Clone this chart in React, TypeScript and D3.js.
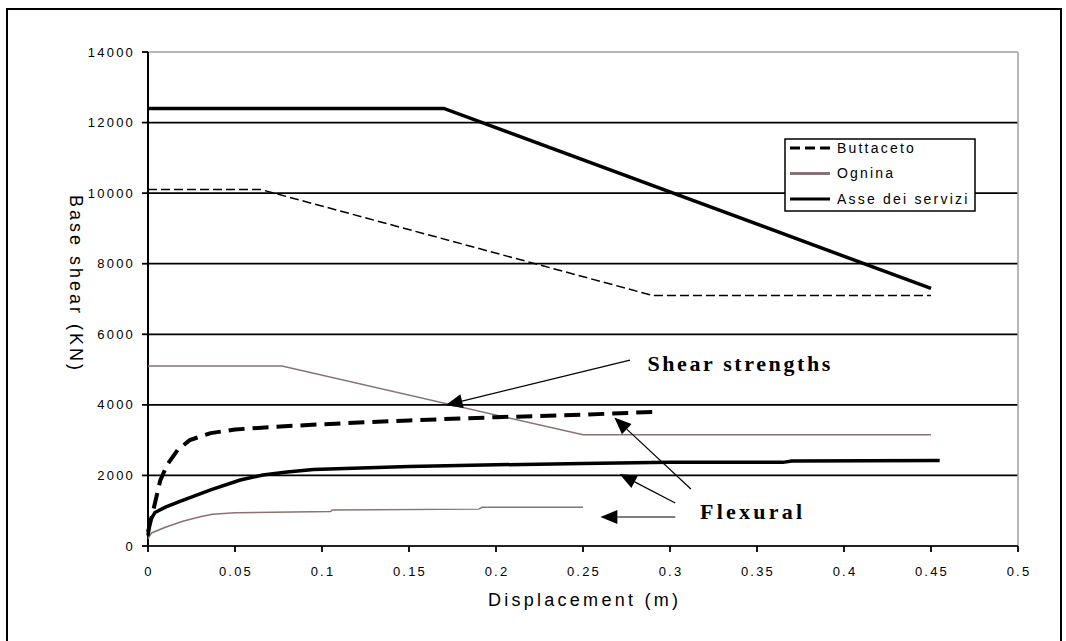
import React from 'react'
import * as d3 from 'd3'

// axis ticks
const xTicks = [0, 0.05, 0.1, 0.15, 0.2, 0.25, 0.3, 0.35, 0.4, 0.45, 0.5]
const xTickLabels = ['0', '0.05', '0.1', '0.15', '0.2', '0.25', '0.3', '0.35', '0.4', '0.45', '0.5']
const yTicks = [0, 2000, 4000, 6000, 8000, 10000, 12000, 14000]

// shear strength envelopes
const shearButtacetoX = [0, 0.065, 0.29, 0.45]
const shearButtacetoY = [10100, 10100, 7100, 7100]
const shearOgninaX = [0, 0.077, 0.25, 0.45]
const shearOgninaY = [5100, 5100, 3150, 3150]
const shearAsseX = [0, 0.17, 0.45]
const shearAsseY = [12400, 12400, 7300]

// flexural (pushover) curves
const flexButtacetoX = [0, 0.003, 0.007, 0.011, 0.017, 0.024, 0.036, 0.05, 0.07, 0.1, 0.15, 0.2, 0.25, 0.29]
const flexButtacetoY = [400, 1000, 1850, 2300, 2720, 3000, 3200, 3300, 3370, 3450, 3560, 3650, 3720, 3800]
const flexAsseX = [0, 0.001, 0.004, 0.01, 0.018, 0.036, 0.053, 0.066, 0.08, 0.095, 0.15, 0.2, 0.25, 0.3, 0.365, 0.37, 0.455]
const flexAsseY = [300, 700, 950, 1100, 1260, 1590, 1870, 2010, 2100, 2170, 2250, 2300, 2340, 2370, 2370, 2410, 2420]
const flexOgninaX = [0, 0.002, 0.01, 0.02, 0.03, 0.037, 0.05, 0.105, 0.106, 0.19, 0.192, 0.25]
const flexOgninaY = [200, 370, 530, 700, 830, 900, 945, 975, 1020, 1045, 1095, 1100]

const legendNames = ['Buttaceto', 'Ognina', 'Asse dei servizi']

// annotation arrows, data units: [fromX, fromY, tipX, tipY]
const shearArrow = [0.277, 5270, 0.171, 3990]
const flexArrows = [
  [0.312, 1615, 0.268, 3640],
  [0.303, 1220, 0.271, 2040],
  [0.303, 822, 0.26, 822],
]

const ogninaColor = '#8b7272'
const sansFont = '"Liberation Sans", Arial, sans-serif'
const serifFont = '"Liberation Serif", "Times New Roman", serif'

const zip = (xs: number[], ys: number[]) => xs.map((x, i) => [x, ys[i]] as [number, number])

export default function App() {
  const x = d3.scaleLinear().domain([0, 0.5]).range([148, 1018])
  const y = d3.scaleLinear().domain([0, 14000]).range([546, 52])
  const line = d3
    .line<[number, number]>()
    .x(d => x(d[0]))
    .y(d => y(d[1]))

  const arrow = (a: number[], key: string) => {
    const x1 = x(a[0]), y1 = y(a[1]), x2 = x(a[2]), y2 = y(a[3])
    const ang = Math.atan2(y2 - y1, x2 - x1)
    const len = 17, hw = 7
    const bx = x2 - len * Math.cos(ang), by = y2 - len * Math.sin(ang)
    const p1 = [bx + hw * Math.sin(ang), by - hw * Math.cos(ang)]
    const p2 = [bx - hw * Math.sin(ang), by + hw * Math.cos(ang)]
    return (
      <g key={key}>
        <line x1={x1} y1={y1} x2={bx} y2={by} stroke="#000" strokeWidth={1.2} />
        <path d={`M${x2},${y2}L${p1[0]},${p1[1]}L${p2[0]},${p2[1]}Z`} fill="#000" />
      </g>
    )
  }

  const legendX = 785, legendY = 139
  const legendStyles = [
    { stroke: '#000', width: 3, dash: '10 5' },
    { stroke: ogninaColor, width: 3, dash: undefined },
    { stroke: '#000', width: 3, dash: undefined },
  ]

  return (
    <svg width={1066} height={641} style={{ display: 'block', position: 'absolute', left: 0, top: 0, background: '#fff' }}>
      <rect x={7} y={9} width={1054} height={650} fill="#fff" stroke="#000" strokeWidth={2} />

      {/* gridlines */}
      {yTicks.filter(t => t > 0).map(t => (
        <line key={'g' + t} x1={x(0)} x2={x(0.5)} y1={y(t)} y2={y(t)}
          stroke={t === 14000 ? '#a0a0a0' : '#000'} strokeWidth={t === 14000 ? 1.5 : 1.8} />
      ))}
      <line x1={x(0.5)} x2={x(0.5)} y1={y(14000)} y2={y(0)} stroke="#a0a0a0" strokeWidth={1.5} />

      {/* axes */}
      <line x1={x(0)} x2={x(0)} y1={y(14000)} y2={y(0)} stroke="#000" strokeWidth={2} />
      <line x1={x(0)} x2={x(0.5)} y1={y(0)} y2={y(0)} stroke="#222" strokeWidth={1.8} />
      {yTicks.map(t => (
        <g key={'yt' + t}>
          <line x1={x(0) - 6} x2={x(0)} y1={y(t)} y2={y(t)} stroke="#000" strokeWidth={1.8} />
          <text x={x(0) - 13} y={y(t)} dy="0.35em" textAnchor="end" fontFamily={sansFont}
            fontSize={13} letterSpacing={2.2}>{t}</text>
        </g>
      ))}
      {xTicks.map((t, i) => (
        <g key={'xt' + t}>
          <line x1={x(t)} x2={x(t)} y1={y(0)} y2={y(0) + 6} stroke="#000" strokeWidth={1.8} />
          <text x={x(t) + 1} y={576} textAnchor="middle" fontFamily={sansFont}
            fontSize={13} letterSpacing={2.2}>{xTickLabels[i]}</text>
        </g>
      ))}
      <text x={488} y={606} fontFamily={sansFont} fontSize={18} textLength={190} lengthAdjust="spacing">
        Displacement (m)
      </text>
      <text transform="translate(70,195) rotate(90)" fontFamily={sansFont}
        fontSize={18} textLength={175} lengthAdjust="spacing">
        Base shear (KN)
      </text>

      {/* shear strengths */}
      <path d={line(zip(shearButtacetoX, shearButtacetoY)) || ''} fill="none" stroke="#000" strokeWidth={1.5} strokeDasharray="9 4" />
      <path d={line(zip(shearOgninaX, shearOgninaY)) || ''} fill="none" stroke={ogninaColor} strokeWidth={1.5} />
      <path d={line(zip(shearAsseX, shearAsseY)) || ''} fill="none" stroke="#000" strokeWidth={3.5} />

      {/* flexural */}
      <path d={line(zip(flexButtacetoX, flexButtacetoY)) || ''} fill="none" stroke="#000" strokeWidth={4} strokeDasharray="16 8" />
      <path d={line(zip(flexOgninaX, flexOgninaY)) || ''} fill="none" stroke={ogninaColor} strokeWidth={1.5} />
      <path d={line(zip(flexAsseX, flexAsseY)) || ''} fill="none" stroke="#000" strokeWidth={3.5} />

      {/* annotations */}
      {arrow(shearArrow, 'sa')}
      {flexArrows.map((a, i) => arrow(a, 'fa' + i))}
      <text x={x(0.287)} y={371} fontFamily={serifFont} fontWeight="bold" fontSize={22} textLength={183} lengthAdjust="spacing">
        Shear strengths
      </text>
      <text x={700} y={519} fontFamily={serifFont} fontWeight="bold" fontSize={22} textLength={102} lengthAdjust="spacing">
        Flexural
      </text>

      {/* legend */}
      <rect x={legendX} y={legendY} width={190} height={72} fill="#fff" stroke="#000" strokeWidth={1.5} />
      {legendNames.map((n, i) => (
        <g key={n} transform={`translate(${legendX},${legendY + 9 + i * 25.5})`}>
          <line x1={5} x2={45} y1={0} y2={0} stroke={legendStyles[i].stroke} strokeWidth={legendStyles[i].width}
            strokeDasharray={legendStyles[i].dash} />
          <text x={52} y={0} dy="0.35em" fontFamily={sansFont} fontSize={14} letterSpacing={2.2}>{n}</text>
        </g>
      ))}
    </svg>
  )
}
